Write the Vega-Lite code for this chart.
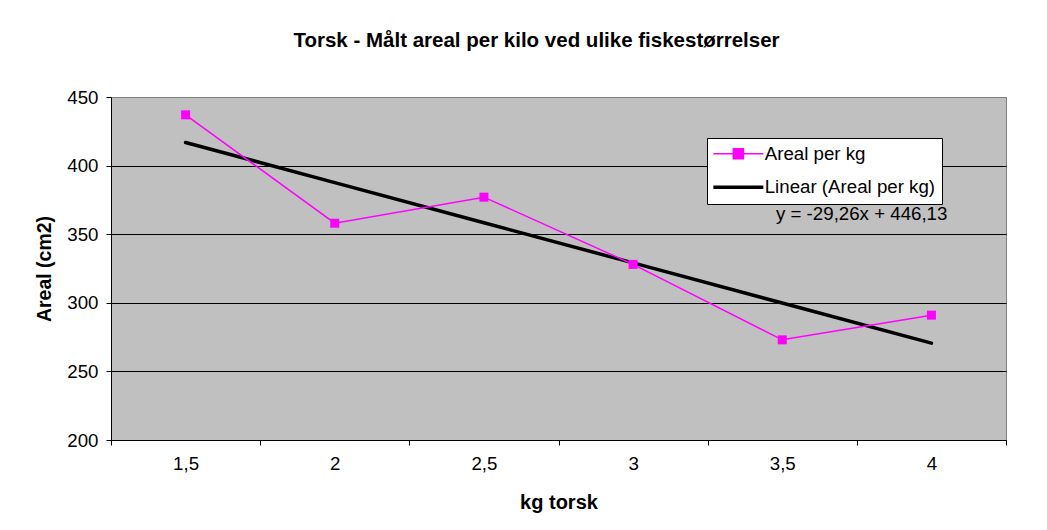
{
  "$schema": "https://vega.github.io/schema/vega-lite/v6.json",
  "width": 895,
  "height": 343,
  "autosize": {"type": "none"},
  "padding": {"left": 111, "top": 97, "right": 41, "bottom": 90},
  "background": "white",
  "title": {
    "text": "Torsk - Målt areal per kilo ved ulike fiskestørrelser",
    "font": "Liberation Sans",
    "fontSize": 20.5,
    "fontWeight": "bold",
    "color": "black",
    "anchor": "middle",
    "frame": "group",
    "baseline": "middle",
    "offset": 27,
    "dx": -22
  },
  "config": {
    "font": "Liberation Sans",
    "view": {"fill": "#C0C0C0", "stroke": "#808080", "strokeWidth": 1}
  },
  "data": {
    "values": [
      {"kg": "1,5", "areal": 437, "series": "Areal per kg"},
      {"kg": "2", "areal": 358, "series": "Areal per kg"},
      {"kg": "2,5", "areal": 377, "series": "Areal per kg"},
      {"kg": "3", "areal": 328, "series": "Areal per kg"},
      {"kg": "3,5", "areal": 273, "series": "Areal per kg"},
      {"kg": "4", "areal": 291, "series": "Areal per kg"},
      {"kg": "1,5", "areal": 416.87, "series": "Linear (Areal per kg)"},
      {"kg": "2", "areal": 387.61, "series": "Linear (Areal per kg)"},
      {"kg": "2,5", "areal": 358.35, "series": "Linear (Areal per kg)"},
      {"kg": "3", "areal": 329.09, "series": "Linear (Areal per kg)"},
      {"kg": "3,5", "areal": 299.83, "series": "Linear (Areal per kg)"},
      {"kg": "4", "areal": 270.57, "series": "Linear (Areal per kg)"}
    ]
  },
  "encoding": {
    "x": {
      "field": "kg",
      "type": "ordinal",
      "sort": ["1,5", "2", "2,5", "3", "3,5", "4"],
      "scale": {"type": "band", "paddingInner": 0, "paddingOuter": 0},
      "axis": {
        "title": "kg torsk",
        "titleFont": "Liberation Sans",
        "titleFontSize": 20,
        "titleFontWeight": "bold",
        "titleColor": "black",
        "titlePadding": 20,
        "labelFont": "Liberation Sans",
        "labelFontSize": 18.7,
        "labelColor": "black",
        "labelAngle": 0,
        "labelPadding": 9,
        "tickBand": "extent",
        "tickSize": 5,
        "tickColor": "black",
        "domainColor": "black",
        "grid": false
      }
    },
    "y": {
      "field": "areal",
      "type": "quantitative",
      "scale": {"domain": [200, 450], "nice": false, "zero": false},
      "axis": {
        "title": "Areal (cm2)",
        "titleFont": "Liberation Sans",
        "titleFontSize": 19.5,
        "titleFontWeight": "bold",
        "titleColor": "black",
        "titlePadding": 12,
        "values": [200, 250, 300, 350, 400, 450],
        "labelFont": "Liberation Sans",
        "labelFontSize": 18.7,
        "labelColor": "black",
        "labelPadding": 8,
        "tickSize": 5,
        "tickColor": "black",
        "domainColor": "black",
        "grid": true,
        "gridColor": {"condition": {"test": "datum.value === 450", "value": "#808080"}, "value": "black"},
        "gridOpacity": 1,
        "gridWidth": 1
      }
    },
    "color": {
      "field": "series",
      "type": "nominal",
      "scale": {"domain": ["Areal per kg", "Linear (Areal per kg)"], "range": ["#FF00FF", "#000000"]},
      "legend": {
        "title": null,
        "orient": "none",
        "legendX": 596,
        "legendY": 41,
        "fillColor": "white",
        "strokeColor": "black",
        "padding": 6.5,
        "rowPadding": 13.5,
        "labelFont": "Liberation Sans",
        "labelFontSize": 18.7,
        "labelColor": "black",
        "labelLimit": 400,
        "labelOffset": 17,
        "symbolSize": 400,
        "symbolOffset": 15.5,
        "symbolType": "M-2.5,0H2.5",
        "symbolStrokeWidth": 2,
        "encode": {
          "symbols": {
            "update": {
              "shape": {"signal": "datum.value === 'Areal per kg' ? 'M-2.5,0H2.5M-0.5,-0.5H0.5V0.5H-0.5Z' : 'M-2.5,0H2.5'"},
              "fill": {"signal": "datum.value === 'Areal per kg' ? '#FF00FF' : 'transparent'"},
              "stroke": {"signal": "datum.value === 'Areal per kg' ? '#FF00FF' : '#000000'"},
              "strokeWidth": {"signal": "datum.value === 'Areal per kg' ? 1.5 : 3.5"}
            }
          }
        }
      }
    }
  },
  "layer": [
    {
      "transform": [{"filter": "datum.series === 'Linear (Areal per kg)'"}],
      "mark": {"type": "line", "strokeWidth": 3.5, "strokeCap": "round"}
    },
    {
      "transform": [{"filter": "datum.series === 'Areal per kg'"}],
      "mark": {"type": "line", "strokeWidth": 1.5, "point": {"shape": "square", "size": 81, "filled": true, "opacity": 1}}
    },
    {
      "transform": [{"filter": "datum.series === 'Linear (Areal per kg)' && datum.kg === '4'"}],
      "mark": {"type": "text", "align": "right", "baseline": "middle", "dx": 16, "font": "Liberation Sans", "fontSize": 18.7, "color": "black"},
      "encoding": {
        "x": {"datum": "4"},
        "y": {"datum": 365},
        "text": {"value": "y = -29,26x + 446,13"},
        "color": null
      }
    }
  ]
}
